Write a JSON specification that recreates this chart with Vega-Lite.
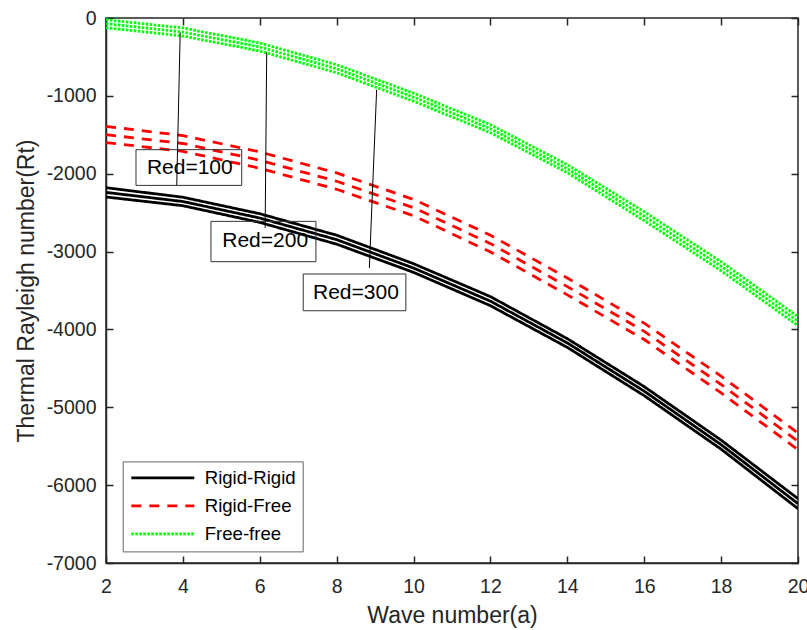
{
  "$schema": "https://vega.github.io/schema/vega-lite/v6.json",
  "width": 692,
  "height": 545,
  "autosize": {"type": "none"},
  "padding": {"left": 106, "top": 18, "right": 9, "bottom": 67},
  "background": "white",
  "config": {
    "view": {"stroke": "#262626", "strokeWidth": 1.5},
    "font": "Liberation Sans",
    "axis": {
      "domainColor": "#262626",
      "domainWidth": 1.5,
      "tickColor": "#262626",
      "tickWidth": 1.5,
      "tickSize": -7,
      "grid": false,
      "labelFont": "Liberation Sans",
      "labelFontSize": 19.5,
      "labelColor": "#262626",
      "titleFont": "Liberation Sans",
      "titleFontSize": 23,
      "titleFontWeight": "normal",
      "titleColor": "#262626"
    }
  },
  "datasets": {
    "curves": [
      {"a": 2, "Rt": -2180, "bc": "Rigid-Rigid", "red": 100},
      {"a": 4, "Rt": -2302, "bc": "Rigid-Rigid", "red": 100},
      {"a": 6, "Rt": -2514, "bc": "Rigid-Rigid", "red": 100},
      {"a": 8, "Rt": -2790, "bc": "Rigid-Rigid", "red": 100},
      {"a": 10, "Rt": -3156, "bc": "Rigid-Rigid", "red": 100},
      {"a": 12, "Rt": -3579, "bc": "Rigid-Rigid", "red": 100},
      {"a": 14, "Rt": -4119, "bc": "Rigid-Rigid", "red": 100},
      {"a": 16, "Rt": -4735, "bc": "Rigid-Rigid", "red": 100},
      {"a": 18, "Rt": -5422, "bc": "Rigid-Rigid", "red": 100},
      {"a": 20, "Rt": -6174, "bc": "Rigid-Rigid", "red": 100},
      {"a": 2, "Rt": -2240, "bc": "Rigid-Rigid", "red": 200},
      {"a": 4, "Rt": -2357, "bc": "Rigid-Rigid", "red": 200},
      {"a": 6, "Rt": -2569, "bc": "Rigid-Rigid", "red": 200},
      {"a": 8, "Rt": -2847, "bc": "Rigid-Rigid", "red": 200},
      {"a": 10, "Rt": -3212, "bc": "Rigid-Rigid", "red": 200},
      {"a": 12, "Rt": -3637, "bc": "Rigid-Rigid", "red": 200},
      {"a": 14, "Rt": -4174, "bc": "Rigid-Rigid", "red": 200},
      {"a": 16, "Rt": -4793, "bc": "Rigid-Rigid", "red": 200},
      {"a": 18, "Rt": -5480, "bc": "Rigid-Rigid", "red": 200},
      {"a": 20, "Rt": -6238, "bc": "Rigid-Rigid", "red": 200},
      {"a": 2, "Rt": -2299, "bc": "Rigid-Rigid", "red": 300},
      {"a": 4, "Rt": -2411, "bc": "Rigid-Rigid", "red": 300},
      {"a": 6, "Rt": -2625, "bc": "Rigid-Rigid", "red": 300},
      {"a": 8, "Rt": -2905, "bc": "Rigid-Rigid", "red": 300},
      {"a": 10, "Rt": -3267, "bc": "Rigid-Rigid", "red": 300},
      {"a": 12, "Rt": -3695, "bc": "Rigid-Rigid", "red": 300},
      {"a": 14, "Rt": -4231, "bc": "Rigid-Rigid", "red": 300},
      {"a": 16, "Rt": -4851, "bc": "Rigid-Rigid", "red": 300},
      {"a": 18, "Rt": -5538, "bc": "Rigid-Rigid", "red": 300},
      {"a": 20, "Rt": -6302, "bc": "Rigid-Rigid", "red": 300},
      {"a": 2, "Rt": -1392, "bc": "Rigid-Free", "red": 100},
      {"a": 4, "Rt": -1510, "bc": "Rigid-Free", "red": 100},
      {"a": 6, "Rt": -1720, "bc": "Rigid-Free", "red": 100},
      {"a": 8, "Rt": -1990, "bc": "Rigid-Free", "red": 100},
      {"a": 10, "Rt": -2330, "bc": "Rigid-Free", "red": 100},
      {"a": 12, "Rt": -2790, "bc": "Rigid-Free", "red": 100},
      {"a": 14, "Rt": -3340, "bc": "Rigid-Free", "red": 100},
      {"a": 16, "Rt": -3920, "bc": "Rigid-Free", "red": 100},
      {"a": 18, "Rt": -4600, "bc": "Rigid-Free", "red": 100},
      {"a": 20, "Rt": -5330, "bc": "Rigid-Free", "red": 100},
      {"a": 2, "Rt": -1499, "bc": "Rigid-Free", "red": 200},
      {"a": 4, "Rt": -1612, "bc": "Rigid-Free", "red": 200},
      {"a": 6, "Rt": -1827, "bc": "Rigid-Free", "red": 200},
      {"a": 8, "Rt": -2097, "bc": "Rigid-Free", "red": 200},
      {"a": 10, "Rt": -2436, "bc": "Rigid-Free", "red": 200},
      {"a": 12, "Rt": -2898, "bc": "Rigid-Free", "red": 200},
      {"a": 14, "Rt": -3450, "bc": "Rigid-Free", "red": 200},
      {"a": 16, "Rt": -4025, "bc": "Rigid-Free", "red": 200},
      {"a": 18, "Rt": -4707, "bc": "Rigid-Free", "red": 200},
      {"a": 20, "Rt": -5437, "bc": "Rigid-Free", "red": 200},
      {"a": 2, "Rt": -1600, "bc": "Rigid-Free", "red": 300},
      {"a": 4, "Rt": -1712, "bc": "Rigid-Free", "red": 300},
      {"a": 6, "Rt": -1930, "bc": "Rigid-Free", "red": 300},
      {"a": 8, "Rt": -2200, "bc": "Rigid-Free", "red": 300},
      {"a": 10, "Rt": -2540, "bc": "Rigid-Free", "red": 300},
      {"a": 12, "Rt": -3005, "bc": "Rigid-Free", "red": 300},
      {"a": 14, "Rt": -3556, "bc": "Rigid-Free", "red": 300},
      {"a": 16, "Rt": -4130, "bc": "Rigid-Free", "red": 300},
      {"a": 18, "Rt": -4815, "bc": "Rigid-Free", "red": 300},
      {"a": 20, "Rt": -5545, "bc": "Rigid-Free", "red": 300},
      {"a": 2, "Rt": -22, "bc": "Free-free", "red": 100},
      {"a": 4, "Rt": -128, "bc": "Free-free", "red": 100},
      {"a": 6, "Rt": -321, "bc": "Free-free", "red": 100},
      {"a": 8, "Rt": -600, "bc": "Free-free", "red": 100},
      {"a": 10, "Rt": -965, "bc": "Free-free", "red": 100},
      {"a": 12, "Rt": -1370, "bc": "Free-free", "red": 100},
      {"a": 14, "Rt": -1884, "bc": "Free-free", "red": 100},
      {"a": 16, "Rt": -2488, "bc": "Free-free", "red": 100},
      {"a": 18, "Rt": -3130, "bc": "Free-free", "red": 100},
      {"a": 20, "Rt": -3836, "bc": "Free-free", "red": 100},
      {"a": 2, "Rt": -73, "bc": "Free-free", "red": 200},
      {"a": 4, "Rt": -180, "bc": "Free-free", "red": 200},
      {"a": 6, "Rt": -372, "bc": "Free-free", "red": 200},
      {"a": 8, "Rt": -651, "bc": "Free-free", "red": 200},
      {"a": 10, "Rt": -1016, "bc": "Free-free", "red": 200},
      {"a": 12, "Rt": -1422, "bc": "Free-free", "red": 200},
      {"a": 14, "Rt": -1936, "bc": "Free-free", "red": 200},
      {"a": 16, "Rt": -2546, "bc": "Free-free", "red": 200},
      {"a": 18, "Rt": -3188, "bc": "Free-free", "red": 200},
      {"a": 20, "Rt": -3894, "bc": "Free-free", "red": 200},
      {"a": 2, "Rt": -125, "bc": "Free-free", "red": 300},
      {"a": 4, "Rt": -231, "bc": "Free-free", "red": 300},
      {"a": 6, "Rt": -424, "bc": "Free-free", "red": 300},
      {"a": 8, "Rt": -703, "bc": "Free-free", "red": 300},
      {"a": 10, "Rt": -1068, "bc": "Free-free", "red": 300},
      {"a": 12, "Rt": -1473, "bc": "Free-free", "red": 300},
      {"a": 14, "Rt": -1987, "bc": "Free-free", "red": 300},
      {"a": 16, "Rt": -2603, "bc": "Free-free", "red": 300},
      {"a": 18, "Rt": -3246, "bc": "Free-free", "red": 300},
      {"a": 20, "Rt": -3952, "bc": "Free-free", "red": 300}
    ],
    "notes": [
      {"label": "Red=100", "tx": 4.18, "ty": -1923, "bx1": 2.78, "bx2": 5.53, "by1": -1691, "by2": -2150, "lx1": 3.93, "ly1": -185, "lx2": 3.84, "ly2": -2150},
      {"label": "Red=200", "tx": 6.14, "ty": -2860, "bx1": 4.73, "bx2": 7.46, "by1": -2612, "by2": -3130, "lx1": 6.18, "ly1": -442, "lx2": 6.14, "ly2": -2697},
      {"label": "Red=300", "tx": 8.5, "ty": -3528, "bx1": 7.13, "bx2": 9.8, "by1": -3288, "by2": -3760, "lx1": 9.04, "ly1": -921, "lx2": 8.85, "ly2": -3211}
    ]
  },
  "layer": [
    {
      "data": {"name": "curves"},
      "mark": {"type": "line", "strokeWidth": 2.8, "clip": true},
      "encoding": {
        "x": {
          "field": "a", "type": "quantitative",
          "scale": {"domain": [2, 20], "nice": false},
          "axis": {"orient": "bottom", "values": [2, 4, 6, 8, 10, 12, 14, 16, 18, 20], "format": "d", "labelPadding": 21.5, "titlePadding": 8, "labelFlush": false, "labelOverlap": false, "title": "Wave number(a)"}
        },
        "y": {
          "field": "Rt", "type": "quantitative",
          "scale": {"domain": [-7000, 0], "nice": false},
          "axis": {"orient": "left", "values": [-7000, -6000, -5000, -4000, -3000, -2000, -1000, 0], "labelExpr": "'' + datum.value", "labelPadding": 17, "titlePadding": 8, "labelFlush": false, "labelOverlap": false, "title": "Thermal Rayleigh number(Rt)"}
        },
        "color": {
          "field": "bc", "type": "nominal",
          "scale": {"domain": ["Rigid-Rigid", "Rigid-Free", "Free-free"], "range": ["#000000", "#ff0000", "#00ff00"]},
          "legend": {
            "title": null, "orient": "none", "legendX": 16.7, "legendY": 443.4,
            "fillColor": "white", "strokeColor": "#666666", "padding": 7,
            "symbolType": "M-1,0H7", "symbolSize": 248, "symbolStrokeWidth": 2.8,
            "labelFont": "Liberation Sans", "labelFontSize": 18.6, "labelColor": "#000000",
            "rowPadding": 8, "labelOffset": 56
          }
        },
        "strokeDash": {
          "field": "bc", "type": "nominal",
          "scale": {"domain": ["Rigid-Rigid", "Rigid-Free", "Free-free"], "range": [[1, 0], [10, 8], [2.5, 1.5]]},
          "legend": {
            "title": null, "orient": "none", "legendX": 16.7, "legendY": 443.4,
            "fillColor": "white", "strokeColor": "#666666", "padding": 7,
            "symbolType": "M-1,0H7", "symbolSize": 248, "symbolStrokeWidth": 2.8,
            "labelFont": "Liberation Sans", "labelFontSize": 18.6, "labelColor": "#000000",
            "rowPadding": 8, "labelOffset": 56
          }
        },
        "detail": {"field": "red", "type": "nominal"},
        "order": {"field": "a", "type": "quantitative"}
      }
    },
    {
      "data": {"name": "notes"},
      "mark": {"type": "rule", "color": "#000000", "strokeWidth": 1},
      "encoding": {
        "x": {"field": "lx1", "type": "quantitative", "axis": {"orient": "top", "labels": false, "title": null, "domain": false, "values": [2, 4, 6, 8, 10, 12, 14, 16, 18, 20]}},
        "x2": {"field": "lx2"},
        "y": {"field": "ly1", "type": "quantitative", "axis": {"orient": "right", "labels": false, "title": null, "domain": false, "values": [-7000, -6000, -5000, -4000, -3000, -2000, -1000, 0]}},
        "y2": {"field": "ly2"}
      }
    },
    {
      "data": {"name": "notes"},
      "mark": {"type": "rect", "fill": null, "fillOpacity": 0, "stroke": "#333333", "strokeWidth": 1},
      "encoding": {
        "x": {"field": "bx1", "type": "quantitative", "axis": null},
        "x2": {"field": "bx2"},
        "y": {"field": "by1", "type": "quantitative", "axis": null},
        "y2": {"field": "by2"}
      }
    },
    {
      "data": {"name": "notes"},
      "mark": {"type": "text", "font": "Liberation Sans", "fontSize": 21, "color": "#000000", "align": "center", "baseline": "middle"},
      "encoding": {
        "x": {"field": "tx", "type": "quantitative", "axis": null},
        "y": {"field": "ty", "type": "quantitative", "axis": null},
        "text": {"field": "label"}
      }
    }
  ]
}
